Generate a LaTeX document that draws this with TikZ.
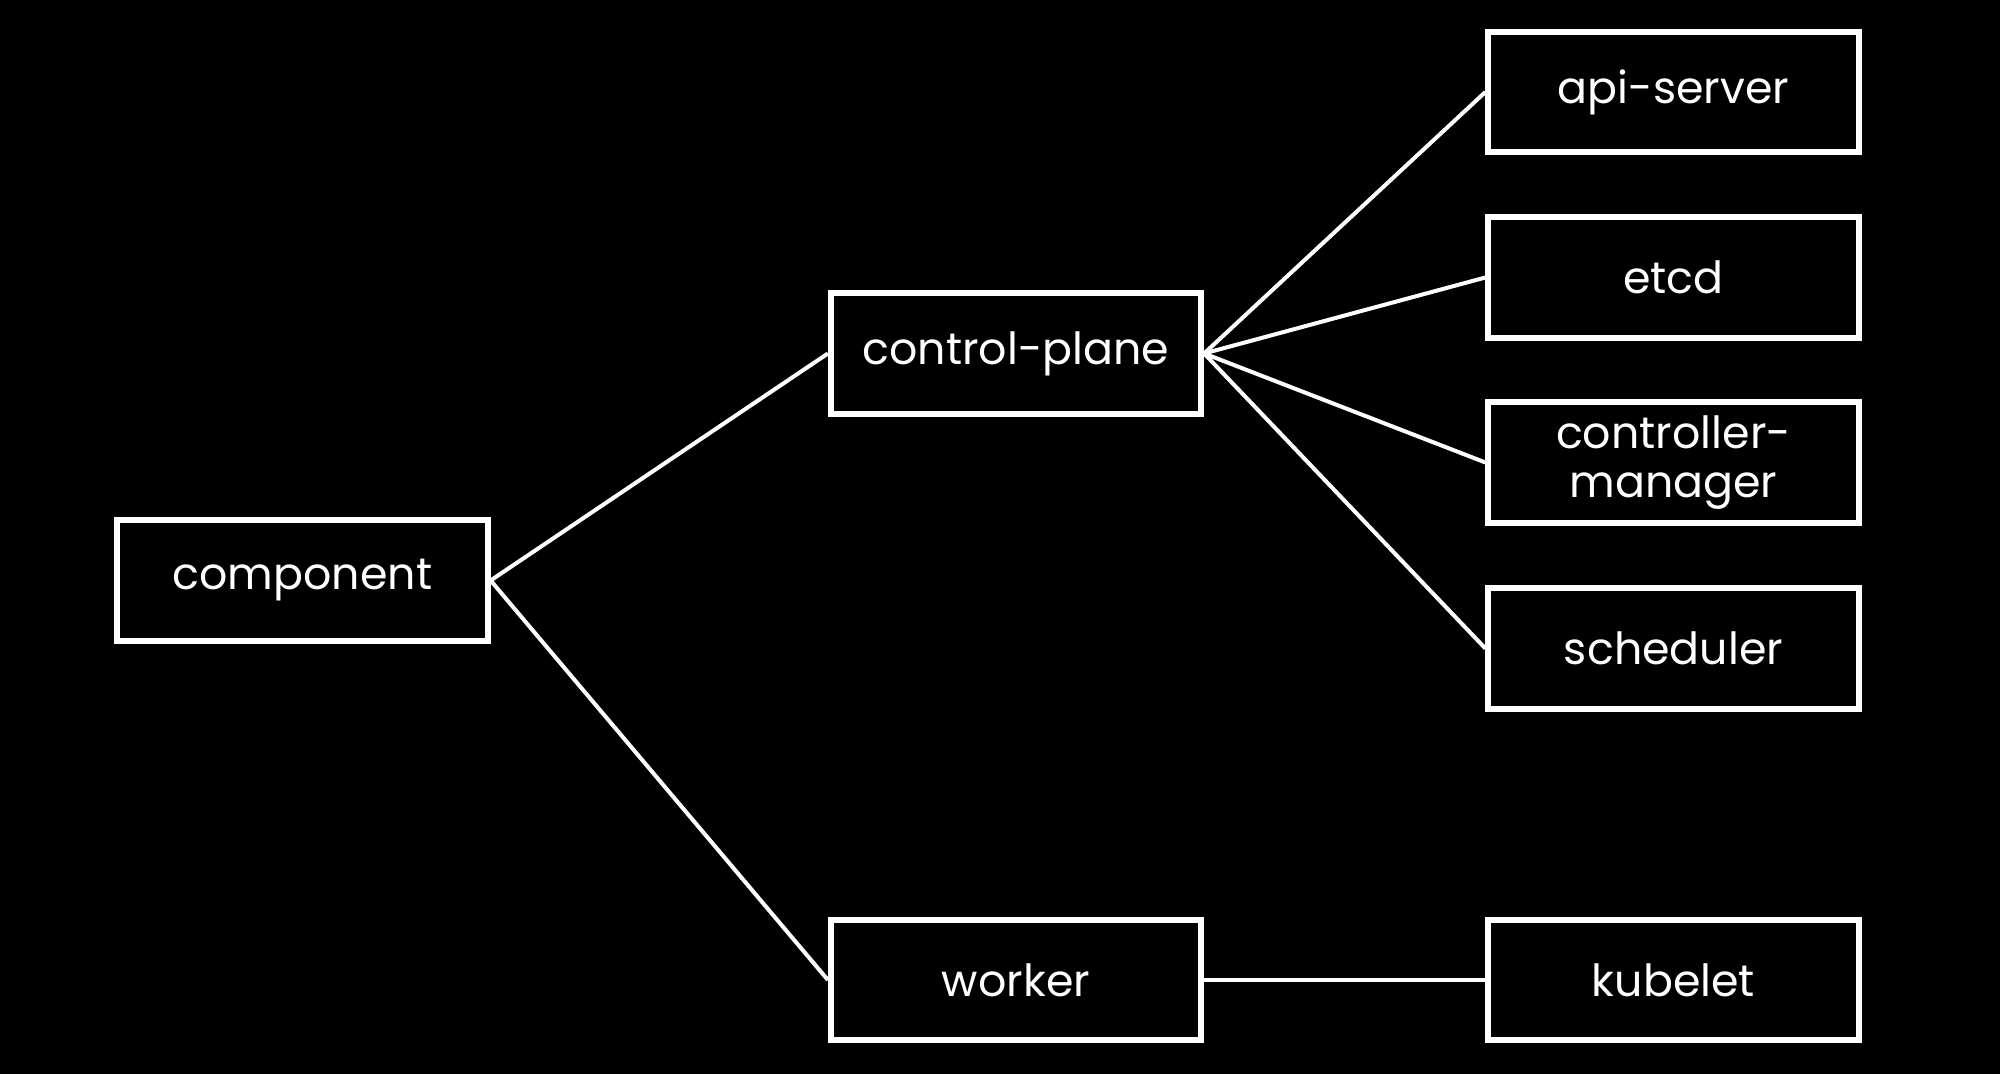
\documentclass[tikz,border=0pt]{standalone}
\usepackage{fontspec}
\setmainfont{Poppins}
\usetikzlibrary{positioning}
\tikzset{
  box/.style={draw=white,line width=0.06cm,fill=black,text=white,align=center,
    minimum width=3.7cm,minimum height=1.2cm,inner sep=2pt,
    font=\fontsize{12.6}{14}\selectfont},
  ln/.style={draw=white,line width=0.04cm},
}
\begin{document}
\begin{tikzpicture}[x=0.01cm,y=-0.01cm]
  \fill[black] (0,0) rectangle (2000,1074);
  \useasboundingbox (0,0) rectangle (2000,1074);
  % ---- root and first level
  \node[box] (comp) at (302.5,580.5) {component};
  \node[box] (cp) at (1016,353.5) {control-plane};
  \node[box] (wk) at (1016,980) {worker};
  % ---- control-plane children
  \node[box] (api) at (1673.5,92) {api-server};
  \node[box] (etcd) at (1673.5,277.5) {etcd};
  \node[box] (cm) at (1673.5,462.5) {controller-\\manager};
  \node[box] (sch) at (1673.5,648.5) {scheduler};
  % ---- worker child
  \node[box] (kub) at (1673.5,980) {kubelet};
  \foreach \x in {cp,wk} \draw[ln] (comp.east) -- (\x.west);
  \foreach \x in {api,etcd,cm,sch} \draw[ln] (cp.east) -- (\x.west);
  \draw[ln] (wk.east) -- (kub.west);
\end{tikzpicture}
\end{document}
